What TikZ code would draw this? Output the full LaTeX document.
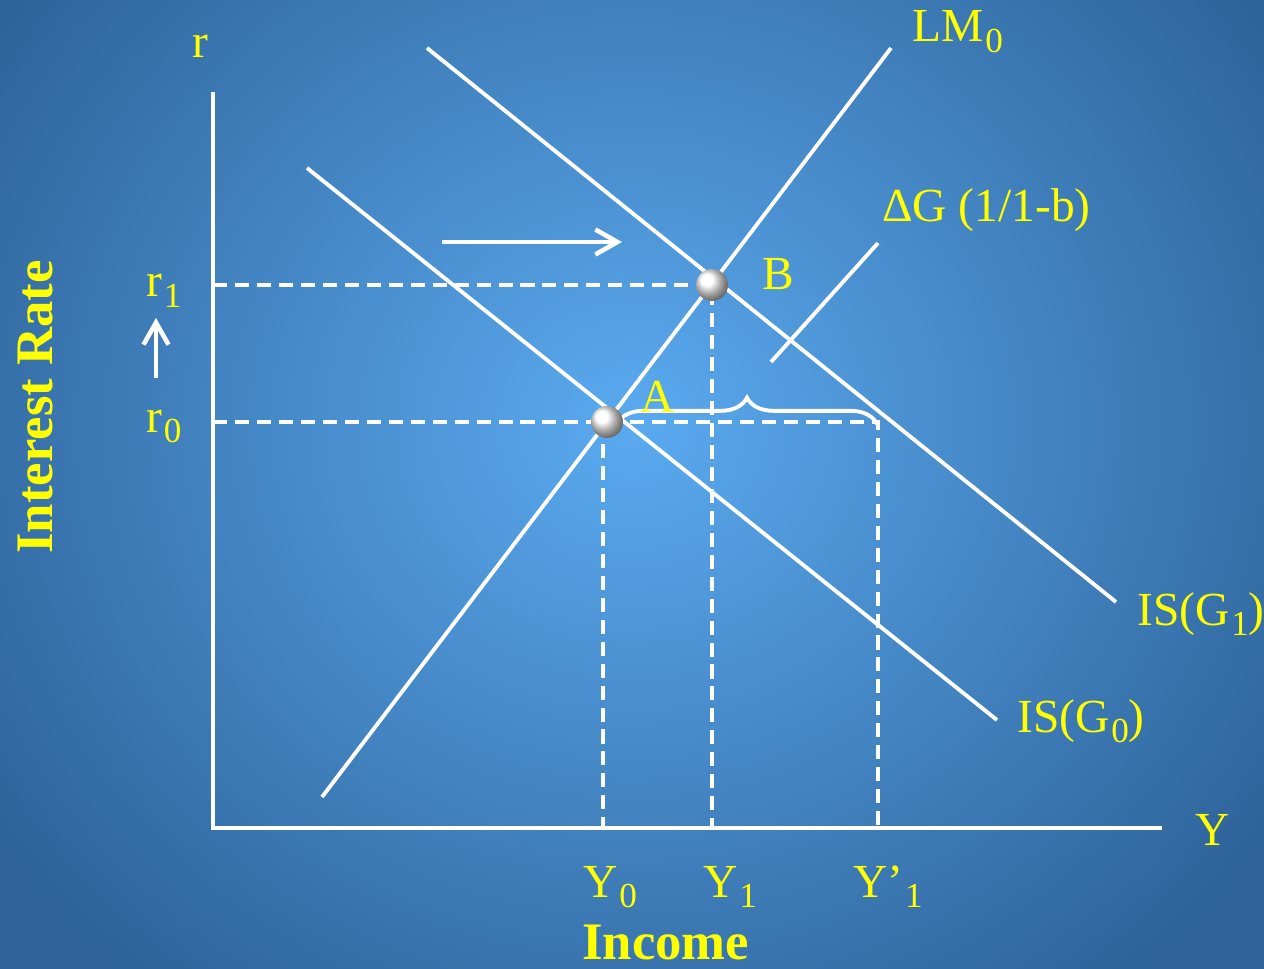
\documentclass[tikz,border=0pt]{standalone}
\usepackage{fontspec}
\setmainfont{Liberation Serif}
\usetikzlibrary{arrows.meta,decorations.pathreplacing}
\definecolor{bgin}{RGB}{90,170,240}
\definecolor{bgout}{RGB}{46,98,152}
\definecolor{lab}{RGB}{255,255,0}
\newcommand{\sbs}[1]{\kern1pt\raisebox{-6pt}{\fontsize{20}{22}\selectfont #1}}
\tikzset{
  >={Straight Barb[length=4.4mm, width=5mm]},
  every node/.style={font=\fontsize{27}{29}\selectfont, text=lab, inner sep=0pt},
  lbl/.style={anchor=base west},
  ttl/.style={font=\fontsize{30}{32}\selectfont\bfseries},
  ax/.style={draw=white, line width=2.4pt},
  crv/.style={draw=white, line width=2.2pt},
  dsh/.style={draw=white, line width=2.2pt, dash pattern=on 8pt off 4.5pt},
  eq/.style={ball color=white},
}

\begin{document}
\begin{tikzpicture}[x=0.02cm, y=-0.02cm]
\begin{scope}
\clip (0,0) rectangle (1264,969);
\shade[inner color=bgin, outer color=bgout] (-150,-300) rectangle (1414,1150);
\end{scope}
\useasboundingbox (0,0) rectangle (1264,969);

% ---------------------------------------------------------------- axes
\coordinate (org) at (213,828);
\coordinate (ytop) at (213,92);
\coordinate (xend) at (1162,828);
\draw[ax] (ytop) -- (org) -- (xend);

% ---------------------------------------------------------------- curves
\coordinate (lmlo) at (322,797);  \coordinate (lmhi) at (891,48);
\coordinate (isa) at (307,168);   \coordinate (isb) at (997,720);
\coordinate (isc) at (427,48);    \coordinate (isd) at (1116,602);
\draw[crv] (lmlo) -- (lmhi);
\draw[crv] (isa) -- (isb);
\draw[crv] (isc) -- (isd);

% ---------------------------------------------------------------- equilibria
\coordinate (ptA) at (607,422);
\coordinate (ptB) at (712,285);
\coordinate (r1) at (213,285);  \coordinate (r0) at (213,422);
\coordinate (y0) at (603,828);  \coordinate (y1) at (712,828);
\coordinate (yp) at (878,828);  \coordinate (ypt) at (878,422);
\draw[dsh] (r1) -- (ptB) -- (y1);
\draw[dsh] (r0) -- (ypt) -- (yp);
\draw[dsh] (603,422) -- (y0);

% multiplier brace
\coordinate (brl) at (617,424); \coordinate (brr) at (877,424);
\draw[white, line width=2.2pt, decorate, decoration={brace, amplitude=15pt, aspect=0.5}] (brl) -- (brr);
\coordinate (dga) at (771,362); \coordinate (dgb) at (878,243);
\draw[crv] (dga) -- (dgb);

\shade[eq] (ptA) circle (0.32cm);
\shade[eq] (ptB) circle (0.32cm);

% shift arrows
\coordinate (sha) at (442,242); \coordinate (shb) at (622,242);
\draw[->, white, line width=2.6pt] (sha) -- (shb);
\coordinate (upa) at (156,378); \coordinate (upb) at (156,318);
\draw[->, white, line width=2.6pt] (upa) -- (upb);

% ---------------------------------------------------------------- labels
\node[lbl] (lr) at (192,58) {r};
\node[lbl] (lr1) at (146,297) {r\sbs{1}};
\node[lbl] (lr0) at (146,432) {r\sbs{0}};
\node[lbl] (llm) at (912,42) {LM\sbs{0}};
\node[lbl] (lB) at (762,290) {B};
\node[lbl] (lA) at (640,412) {A};
\node[lbl] (ldg) at (882,222) {ΔG (1/1-b)};
\node[lbl] (lis1) at (1137,625) {IS(G\sbs{1})};
\node[lbl] (lis0) at (1017,732) {IS(G\sbs{0})};
\node[lbl] (lY) at (1195,845) {Y};
\node[lbl] (lY0) at (583,897) {Y\sbs{0}};
\node[lbl] (lY1) at (703,897) {Y\sbs{1}};
\node[lbl] (lYp) at (853,897) {Y’\sbs{1}};
\node[lbl, ttl] (linc) at (582,959) {Income};
\node[ttl, rotate=90] (lint) at (36,407) {Interest Rate};

\end{tikzpicture}
\end{document}
